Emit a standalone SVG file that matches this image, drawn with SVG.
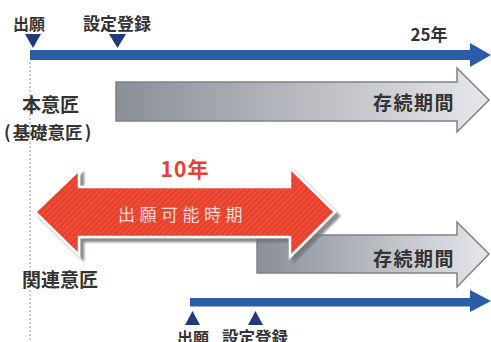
<svg xmlns="http://www.w3.org/2000/svg" width="491" height="342" viewBox="0 0 491 342">
<style>
.lbl{font-family:"Noto Sans CJK JP","Noto Sans",sans-serif;fill:#333;font-weight:700}
.gray{stroke:#7e8189;stroke-width:1.5;fill:url(#g)}
.blue{fill:#2b5ca8}
.tri{fill:#23387c}
</style>
<defs>
<linearGradient id="g" x1="0" y1="0" x2="1" y2="0">
<stop offset="0" stop-color="#8a8e97"/>
<stop offset="1" stop-color="#e6e7ea"/>
</linearGradient>
<pattern id="stripe" width="4" height="4" patternUnits="userSpaceOnUse" patternTransform="rotate(45)">
<rect width="4" height="4" fill="#e8412c"/>
<rect width="1.2" height="4" fill="#f0634f" opacity="0.6"/>
</pattern>
<filter id="sh" x="-10%" y="-10%" width="130%" height="130%">
<feDropShadow dx="4" dy="4" stdDeviation="1" flood-color="#6d6f74" flood-opacity="0.8"/>
</filter>
</defs>
<g id="connectors">
<line x1="30" y1="62" x2="30" y2="342" stroke="#9a9a9a" stroke-width="1" stroke-dasharray="2,2"/>
</g>
<g id="top-timeline">
<rect class="blue" x="30" y="50" width="441" height="10"/>
<polygon class="blue" points="470,43 491,55 470,67"/>
<polygon class="tri" points="25,34 41,34 33,48"/>
<polygon class="tri" points="109,34 126,34 117.5,48"/>
<text class="lbl" x="13" y="29.5" font-size="16">出願</text>
<text class="lbl" x="83" y="30" font-size="17">設定登録</text>
<text class="lbl" x="429" y="41" font-size="17" text-anchor="middle">25年</text>
</g>
<g id="honishou">
<text class="lbl" x="22" y="112" font-size="19" font-weight="500">本意匠</text>
<text class="lbl" x="4" y="139" font-size="17.5" font-weight="500">(<tspan dx="2">基礎意匠</tspan><tspan dx="2">)</tspan></text>
</g>
<g id="upper-period">
<path class="gray" d="M116,82 L457,82 L457,68 L489,100 L457,132 L457,121 L116,121 Z"/>
<text class="lbl" x="373" y="110" font-size="19" letter-spacing="1.5">存続期間</text>
</g>
<g id="lower-period">
<path class="gray" d="M257,235 L457,235 L457,222 L489,254 L457,287 L457,273 L257,273 Z"/>
<text class="lbl" x="373" y="266" font-size="19" letter-spacing="1.5">存続期間</text>
</g>
<g id="filing-period">
<path d="M35,212 L79,170 L79,187 L290,187 L290,168 L335,212 L290,257 L290,237 L79,237 L79,255 Z" fill="url(#stripe)" stroke="#fff" stroke-width="2.5" stroke-linejoin="miter" filter="url(#sh)"/>
<text x="185" y="177" font-size="21" font-weight="700" fill="#e8412c" text-anchor="middle" letter-spacing="1" font-family="'Noto Sans CJK JP','Noto Sans',sans-serif">10年</text>
<text x="118" y="221" font-size="17" fill="#f8dcd6" letter-spacing="4.5" font-family="'Noto Sans CJK JP','Noto Sans',sans-serif">出願可能時期</text>
</g>
<g id="kanren">
<text class="lbl" x="22" y="287" font-size="19" font-weight="500">関連意匠</text>
</g>
<g id="bottom-timeline">
<rect class="blue" x="190" y="298" width="281" height="8.5"/>
<polygon class="blue" points="470,290 491,301 470,312"/>
<polygon class="tri" points="185,325 200,325 192.5,311"/>
<polygon class="tri" points="248,325 263,325 255.5,311"/>
<text class="lbl" x="177" y="344" font-size="16">出願</text>
<text class="lbl" x="222" y="344" font-size="16.5">設定登録</text>
</g>
</svg>
